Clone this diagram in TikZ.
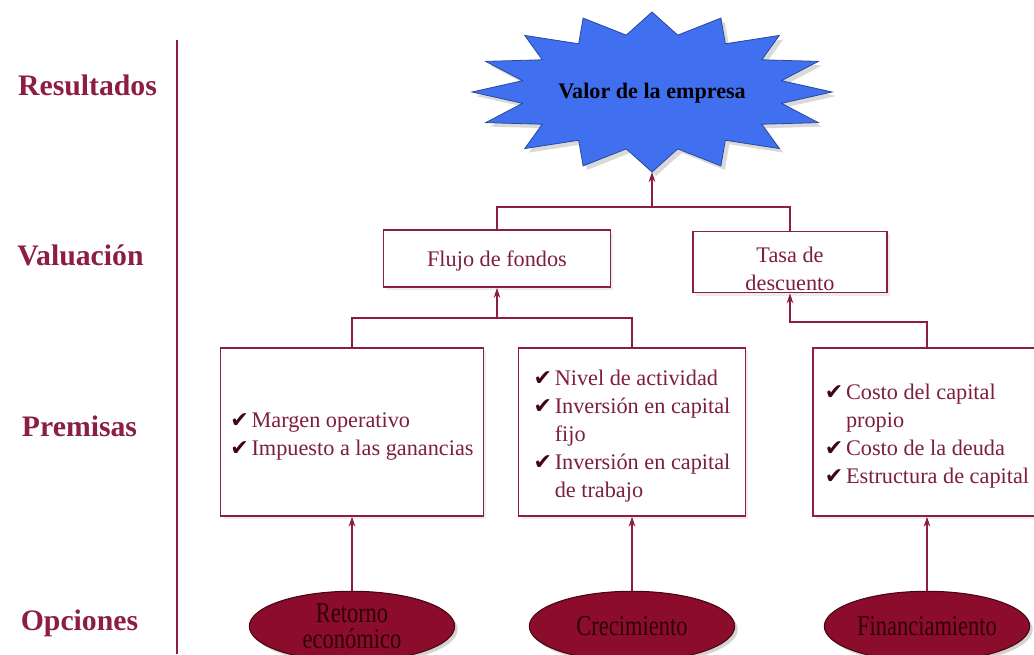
\documentclass[tikz,border=0pt]{standalone}
\usepackage{fontspec}
\setmainfont{Liberation Serif}
\newfontfamily\simbolos{DejaVu Sans}
\newfontfamily\angosta[FakeStretch=0.78]{Liberation Serif}
\usetikzlibrary{positioning,arrows.meta,shapes.geometric,shadows}
\definecolor{granate}{RGB}{140,30,65}
\definecolor{granatetexto}{RGB}{125,30,62}
\definecolor{vino}{RGB}{140,12,44}
\definecolor{vinooscuro}{RGB}{70,5,20}
\definecolor{textovino}{RGB}{45,0,12}
\definecolor{azulestrella}{RGB}{64,112,240}
\newcommand{\marca}{{\simbolos\fontsize{16.5}{16.5}\selectfont\color{textovino!80!granate}✔}}
\newcommand{\lista}[1]{\raisebox{-3pt}[\height][\depth]{%
    \begin{tabular}{@{}l@{\hspace{2pt}}l@{}}#1\end{tabular}}}
\tikzset{
  nivel/.style       = {font=\fontsize{22.3}{26}\selectfont\bfseries, text=granate},
  caja/.style        = {draw=granate, line width=1.1pt, fill=white, align=center,
                        inner sep=2pt, font=\fontsize{16.7}{21}\selectfont,
                        text=granatetexto, drop shadow={opacity=0.15}},
  cajapremisa/.style = {caja, minimum height=126pt},
  opcion/.style      = {ellipse, draw=vinooscuro, line width=0.8pt, fill=vino,
                        minimum width=154pt, minimum height=52.5pt, inner sep=0pt,
                        align=center, font=\angosta\fontsize{21.6}{20}\selectfont,
                        text=textovino, drop shadow={opacity=0.35}},
  linea/.style       = {draw=granate, line width=1.1pt},
  flecha/.style      = {linea, -{Stealth[length=7.5pt, width=5pt]}}
}

\begin{document}
\begin{tikzpicture}[x=0.75pt, y=-0.75pt]
        \useasboundingbox (0,0) rectangle (1034,654);
        \clip (0,0) rectangle (1034,654);

        % columna de niveles
        \node[nivel] (resultados) at (87.5,85) {Resultados};
        \node[nivel] (valuacion) at (80.5,255) {Valuación};
        \node[nivel] (premisas) at (79.5,426) {Premisas};
        \node[nivel] (opciones) at (79.5,623) {Opciones};
        \coordinate (ejesup) at (177,40);
        \coordinate (ejeinf) at (177,654);
        \draw[draw=granate, line width=0.8pt] (ejesup) -- (ejeinf);

        % estrella
        \filldraw[fill=azulestrella, draw=azulestrella!65!black, line width=0.6pt,
            drop shadow={opacity=0.3, shadow xshift=3pt, shadow yshift=-3pt}]
            plot[samples at={0,...,31}, variable=\k]
            ({652+ifthenelse(mod(\k,2)==0,180,132)*sin(\k*11.25)},
             {92-ifthenelse(mod(\k,2)==0,80,58)*cos(\k*11.25)}) -- cycle;
        \node[font=\fontsize{16.6}{20}\selectfont\bfseries] (valor) at (652,93) {Valor de la empresa};
        \coordinate (picoinf) at (652,172);

        % valuacion
        \node[caja, minimum width=170pt, minimum height=43pt] (flujo) at (497,258.5)
            {\raisebox{-2pt}[\height][\depth]{Flujo de fondos}};
        \node[caja, minimum width=145.5pt, minimum height=43.5pt] (tasa) at (790,262)
            {\raisebox{-7pt}[\height][\depth]{\begin{tabular}{@{}c@{}}Tasa de\\descuento\end{tabular}}};

        % premisas
        \node[cajapremisa, minimum width=197pt] (margen) at (352,432)
            {\lista{\marca & Margen operativo\\
                    \marca & Impuesto a las ganancias}};
        \node[cajapremisa, minimum width=170pt] (actividad) at (632,432)
            {\lista{\marca & Nivel de actividad\\
                    \marca & Inversión en capital\\
                           & fijo\\
                    \marca & Inversión en capital\\
                           & de trabajo}};
        \node[cajapremisa, minimum width=171pt] (costo) at (927,432)
            {\lista{\marca & Costo del capital\\
                           & propio\\
                    \marca & Costo de la deuda\\
                    \marca & Estructura de capital}};

        % opciones
        \node[opcion, below=55.5pt of margen] (retorno) {Retorno\\económico};
        \node[opcion, below=55.5pt of actividad] (crecimiento) {Crecimiento};
        \node[opcion, below=55.5pt of costo] (financiamiento) {Financiamiento};

        % conectores
        \coordinate (unionv) at (652,207);
        \coordinate (unionp) at (497,318);
        \coordinate (uniont) at (790,322);
        \draw[linea] (flujo.north) |- (unionv) -| (tasa.north);
        \draw[flecha] (unionv) -- (picoinf);
        \draw[linea] (margen.north) |- (unionp) -| (actividad.north);
        \draw[flecha] (unionp) -- (flujo.south);
        \draw[flecha] (costo.north) |- (uniont) -- (tasa.south);
        \draw[flecha] (retorno.north) -- (margen.south);
        \draw[flecha] (crecimiento.north) -- (actividad.south);
        \draw[flecha] (financiamiento.north) -- (costo.south);
    \end{tikzpicture}
\end{document}
